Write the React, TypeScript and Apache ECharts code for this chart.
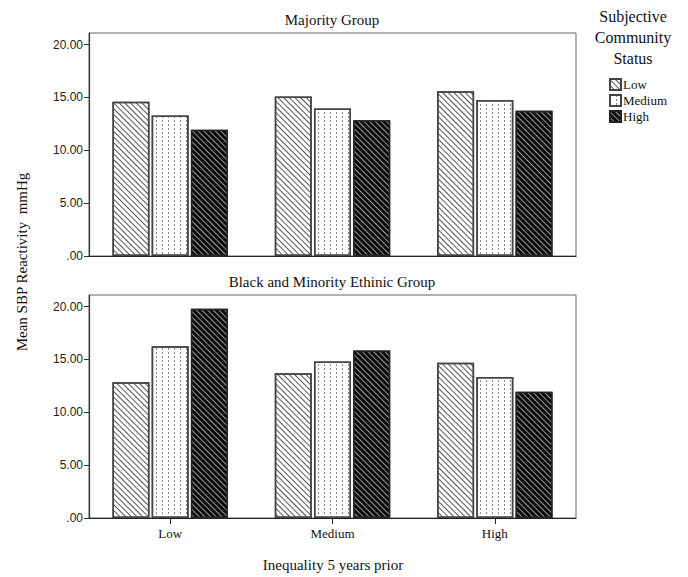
import React, { useEffect, useRef } from "react";
import * as echarts from "echarts";

const categories = ["Low", "Medium", "High"];
const statusNames = ["Low", "Medium", "High"];
const yTicks = [0, 5, 10, 15, 20];

// Majority Group, one array per community status, across inequality categories
const majorityLow = [14.6, 15.1, 15.6];
const majorityMedium = [13.3, 13.95, 14.75];
const majorityHigh = [11.95, 12.85, 13.75];

// Black and Minority Ethinic Group
const bmeLow = [12.85, 13.7, 14.7];
const bmeMedium = [16.25, 14.8, 13.35];
const bmeHigh = [19.8, 15.85, 11.95];

const serif = '"Liberation Serif", "Times New Roman", serif';
const sans = '"Liberation Sans", Arial, sans-serif';

const styles: any[] = [
  {
    color: "#ffffff",
    borderColor: "#444",
    borderWidth: 1.5,
    decal: {
      symbol: "rect",
      symbolSize: 1,
      color: "#555",
      dashArrayX: [1, 0],
      dashArrayY: [1, 2.4],
      rotation: Math.PI / 4,
    },
  },
  {
    color: "#ffffff",
    borderColor: "#444",
    borderWidth: 1.5,
    decal: {
      symbol: "rect",
      symbolSize: 1,
      color: "#888",
      dashArrayX: [1, 5],
      dashArrayY: [2, 2],
      rotation: 0,
    },
  },
  {
    color: "#0a0a0a",
    borderColor: "#222",
    borderWidth: 1.5,
    decal: {
      symbol: "rect",
      symbolSize: 1,
      color: "#999999",
      dashArrayX: [1, 0],
      dashArrayY: [0.9, 2.4],
      rotation: Math.PI / 4,
    },
  },
];

function makeYAxis(gridIndex: number) {
  return {
    type: "value",
    gridIndex,
    min: 0,
    max: 21.1,
    interval: 5,
    axisLine: { show: true, lineStyle: { color: "#333", width: 1.2 } },
    axisTick: { show: true, length: 5, customValues: yTicks, lineStyle: { color: "#333" } },
    axisLabel: {
      customValues: yTicks,
      fontFamily: sans,
      fontSize: 12,
      color: "#222",
      margin: 6,
      formatter: (v: number) => (v === 0 ? ".00" : v.toFixed(2)),
    },
    splitLine: { show: false },
  };
}

export default function App() {
  const ref = useRef<HTMLDivElement>(null);
  useEffect(() => {
    if (!ref.current) return;
    const chart = echarts.init(ref.current, undefined, { renderer: "svg" });
    const groups = [
      [majorityLow, majorityMedium, majorityHigh],
      [bmeLow, bmeMedium, bmeHigh],
    ];
    const series: any[] = [];
    groups.forEach((g, gi) => {
      g.forEach((vals, si) => {
        series.push({
          type: "bar",
          name: statusNames[si],
          xAxisIndex: gi,
          yAxisIndex: gi,
          data: vals,
          barWidth: 37,
          barGap: "6%",
          itemStyle: styles[si],
          emphasis: { disabled: true },
        });
      });
    });
    chart.setOption({
      animation: false,
      backgroundColor: "#ffffff",
      grid: [
        { left: 89, top: 33, width: 487, height: 223, show: true, borderColor: "#666", borderWidth: 1, backgroundColor: "transparent" },
        { left: 89, top: 295, width: 487, height: 223, show: true, borderColor: "#666", borderWidth: 1, backgroundColor: "transparent" },
      ],
      xAxis: [
        {
          type: "category",
          gridIndex: 0,
          data: categories,
          axisLine: { show: true, lineStyle: { color: "#222", width: 1.2 } },
          axisTick: { show: false },
          axisLabel: { show: false },
        },
        {
          type: "category",
          gridIndex: 1,
          data: categories,
          axisLine: { show: true, lineStyle: { color: "#222", width: 1.2 } },
          axisTick: { show: true, alignWithLabel: true, length: 6, lineStyle: { color: "#222" } },
          axisLabel: { fontFamily: serif, fontSize: 13, color: "#111", margin: 9 },
        },
      ],
      yAxis: [makeYAxis(0), makeYAxis(1)],
      legend: {
        data: statusNames,
        orient: "vertical",
        left: 604,
        top: 73,
        itemWidth: 11,
        itemHeight: 11,
        itemGap: 3,
        icon: "rect",
        textStyle: { fontFamily: serif, fontSize: 13, color: "#111", padding: [0, 0, 0, -3] },
        selectedMode: false,
      },
      graphic: [
        {
          type: "text",
          x: 332,
          y: 20,
          style: { text: "Majority Group", textAlign: "center", textVerticalAlign: "middle", fontFamily: serif, fontSize: 15, fill: "#111" },
        },
        {
          type: "text",
          x: 332,
          y: 282,
          style: { text: "Black and Minority Ethinic Group", textAlign: "center", textVerticalAlign: "middle", fontFamily: serif, fontSize: 15, fill: "#111" },
        },
        {
          type: "text",
          x: 633,
          y: 16,
          style: { text: "Subjective", textAlign: "center", textVerticalAlign: "middle", fontFamily: serif, fontSize: 16, fill: "#111" },
        },
        {
          type: "text",
          x: 633,
          y: 37,
          style: { text: "Community", textAlign: "center", textVerticalAlign: "middle", fontFamily: serif, fontSize: 16, fill: "#111" },
        },
        {
          type: "text",
          x: 633,
          y: 58,
          style: { text: "Status", textAlign: "center", textVerticalAlign: "middle", fontFamily: serif, fontSize: 16, fill: "#111" },
        },
        {
          type: "text",
          x: 22,
          y: 262,
          rotation: Math.PI / 2,
          style: { text: "Mean SBP Reactivity  mmHg", textAlign: "center", textVerticalAlign: "middle", fontFamily: serif, fontSize: 15, fill: "#111" },
        },
        {
          type: "text",
          x: 333,
          y: 565,
          style: { text: "Inequality 5 years prior", textAlign: "center", textVerticalAlign: "middle", fontFamily: serif, fontSize: 15, fill: "#111" },
        },
      ],
      series,
    });
    return () => chart.dispose();
  }, []);
  return (
    <div
      ref={ref}
      style={{ position: "fixed", left: 0, top: 0, width: 688, height: 577 }}
    />
  );
}
